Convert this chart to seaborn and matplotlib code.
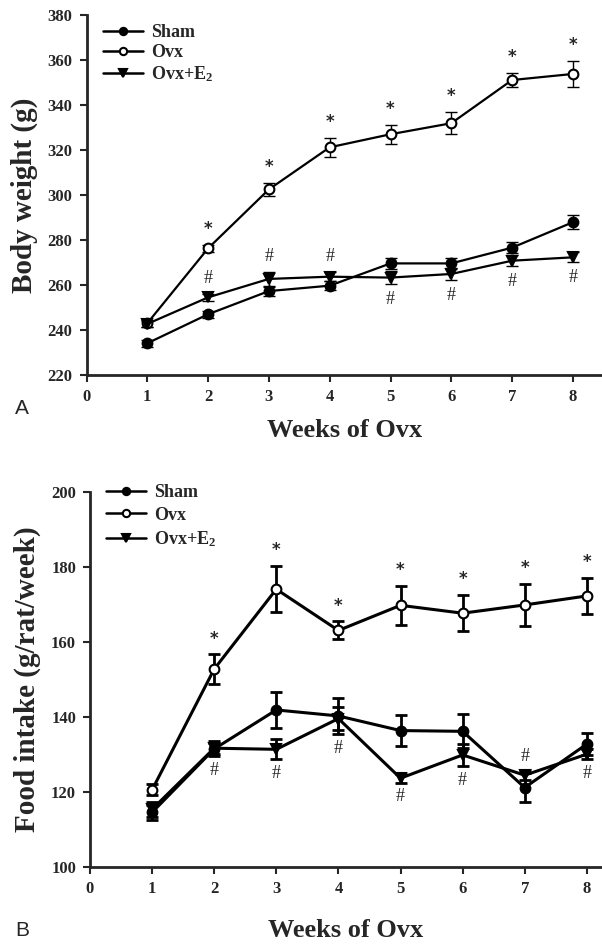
import numpy as np
import pandas as pd
import matplotlib
matplotlib.use("Agg")
import matplotlib.pyplot as plt
import seaborn as sns

sns.set_style("ticks")
plt.rcParams['font.family'] = ['Liberation Serif', 'DejaVu Serif']
plt.rcParams['font.weight'] = 'bold'
plt.rcParams['mathtext.fontset'] = 'custom'
plt.rcParams['mathtext.rm'] = 'Liberation Serif:bold'
plt.rcParams['mathtext.bf'] = 'Liberation Serif:bold'
plt.rcParams['mathtext.it'] = 'Liberation Serif:bold'

weeks = [1, 2, 3, 4, 5, 6, 7, 8]
groups = ["Sham", "Ovx", "Ovx+E$_2$"]

# Panel A: body weight (g)
bw_sham = [234.1, 247.0, 257.3, 259.7, 269.6, 269.6, 276.6, 287.9]
bw_sham_se = [1.5, 1.5, 2.0, 2.0, 2.5, 2.5, 2.4, 3.1]
bw_ovx = [243.0, 276.3, 302.5, 321.2, 327.0, 331.9, 351.1, 353.8]
bw_ovx_se = [1.5, 1.5, 3.0, 4.1, 4.2, 5.0, 3.3, 5.7]
bw_e2 = [242.7, 254.5, 262.7, 263.7, 263.3, 264.9, 270.8, 272.3]
bw_e2_se = [1.5, 1.5, 3.0, 2.0, 3.0, 2.5, 2.5, 2.2]
bw_star_weeks = [2, 3, 4, 5, 6, 7, 8]
bw_hash_weeks = [2, 3, 4, 5, 6, 7, 8]
bw_hash_side = [1, 1, 1, -1, -1, -1, -1]

# Panel B: food intake (g/rat/week)
fi_sham = [114.5, 131.4, 141.8, 140.2, 136.3, 136.1, 121.1, 132.7]
fi_sham_se = [2.0, 2.0, 4.7, 4.8, 4.2, 4.5, 3.9, 3.0]
fi_ovx = [120.5, 152.7, 174.0, 163.0, 169.7, 167.6, 169.8, 172.2]
fi_ovx_se = [1.5, 3.9, 6.1, 2.4, 5.2, 4.8, 5.5, 4.8]
fi_e2 = [115.3, 131.6, 131.3, 139.5, 123.6, 129.8, 124.4, 130.0]
fi_e2_se = [2.0, 1.5, 2.7, 3.0, 1.2, 3.0, 1.3, 1.3]
fi_star_weeks = [2, 3, 4, 5, 6, 7, 8]
fi_hash_weeks = [2, 3, 4, 5, 6, 7, 8]
fi_hash_side = [-1, -1, -1, -1, -1, 1, -1]

xticks = [0, 1, 2, 3, 4, 5, 6, 7, 8]

fig = plt.figure(figsize=(6.02, 9.48), dpi=100)
axA = fig.add_axes([86.5 / 602, 1 - 375 / 948, 1 - 86.5 / 602, 360 / 948])
axB = fig.add_axes([90 / 602, 1 - 866.7 / 948, 1 - 90 / 602, 375 / 948])

styles = {
    "Sham": dict(marker="o", mfc="black", ms=7),
    "Ovx": dict(marker="o", mfc="white", ms=7),
    "Ovx+E$_2$": dict(marker="v", mfc="black", ms=7),
}


def panel(ax, sham, sham_se, ovx, ovx_se, e2, e2_se, lw, elw, ylim, yticks,
          ylabel, star_weeks, hash_weeks, hash_side, star_pad, hash_pad,
          leg_anchor, leg_spacing, ylab_size, xlab_pad):
    data = {"Sham": (sham, sham_se), "Ovx": (ovx, ovx_se), "Ovx+E$_2$": (e2, e2_se)}
    order = ["Ovx", "Ovx+E$_2$", "Sham"]
    for z, g in enumerate(order):
        vals, se = data[g]
        df = pd.DataFrame({"week": weeks, "value": vals})
        ax.errorbar(weeks, vals, yerr=se, fmt="none", ecolor="black",
                    elinewidth=elw, capsize=4, capthick=elw, zorder=2 + z)
        sns.lineplot(data=df, x="week", y="value", ax=ax, color="black",
                     lw=lw, marker=styles[g]["marker"], ms=styles[g]["ms"],
                     mfc=styles[g]["mfc"], mec="black", mew=1.5,
                     zorder=3 + z, label=g)
    h, l = ax.get_legend_handles_labels()
    hd = dict(zip(l, h))
    leg = ax.legend([hd[g] for g in groups], groups, loc="upper left",
                    bbox_to_anchor=leg_anchor, frameon=False,
                    handlelength=2.2, handletextpad=0.45,
                    labelspacing=leg_spacing, borderaxespad=0, borderpad=0,
                    markerscale=0.75,
                    prop={"family": "Liberation Serif", "weight": "bold",
                          "size": 13})
    for line in leg.get_lines():
        line.set_linewidth(1.8)
    # significance marks
    for w in star_weeks:
        i = weeks.index(w)
        ax.annotate("*", (w, ovx[i] + ovx_se[i]), xytext=(0, star_pad),
                    textcoords="offset points", ha="center", va="bottom",
                    fontsize=12, fontfamily="DejaVu Sans")
    for w, s in zip(hash_weeks, hash_side):
        i = weeks.index(w)
        if s > 0:
            base = e2[i] + e2_se[i]
            ax.annotate("#", (w, base), xytext=(0, hash_pad),
                        textcoords="offset points", ha="center", va="bottom",
                        fontsize=13, fontweight="normal",
                        fontfamily="Liberation Serif")
        else:
            base = min(e2[i] - e2_se[i], sham[i] - sham_se[i])
            ax.annotate("#", (w, base), xytext=(0, -hash_pad),
                        textcoords="offset points", ha="center", va="top",
                        fontsize=13, fontweight="normal",
                        fontfamily="Liberation Serif")
    ax.set_ylim(*ylim)
    ax.set_yticks(yticks)
    ax.set_xticks(xticks)
    ax.set_ylabel(ylabel, fontsize=ylab_size, fontweight="bold", labelpad=7)
    ax.set_xlabel("Weeks of Ovx", fontsize=19, fontweight="bold",
                  labelpad=xlab_pad)
    for lab in ax.get_xticklabels() + ax.get_yticklabels():
        lab.set_fontweight("bold")
        lab.set_fontsize(12)
    ax.tick_params(direction="out", length=5, width=1.5, pad=5)
    sns.despine(ax=ax)
    for sp in ("left", "bottom"):
        ax.spines[sp].set_linewidth(2)


panel(axA, bw_sham, bw_sham_se, bw_ovx, bw_ovx_se, bw_e2, bw_e2_se, 1.6, 1.0,
      (220, 380), np.arange(220, 381, 20), "Body weight (g)",
      bw_star_weeks, bw_hash_weeks, bw_hash_side, 5, 5,
      (0.032, 0.975), 0.18, 21, 10)
axA.set_xlim(0, (602 - 86.5) / 60.8)

panel(axB, fi_sham, fi_sham_se, fi_ovx, fi_ovx_se, fi_e2, fi_e2_se, 2.2, 2.0,
      (100, 200), np.arange(100, 201, 20), "Food intake (g/rat/week)",
      fi_star_weeks, fi_hash_weeks, fi_hash_side, 5, 4,
      (0.031, 1.02), 0.3, 21, 16)
axB.set_xlim(0, (602 - 90) / 62.1)

fig.text(15 / 602, 1 - 408 / 948, "A", fontsize=15, fontweight="normal",
         family="Liberation Sans", va="center")
fig.text(15 / 602, 1 - 930 / 948, "B", fontsize=15, fontweight="normal",
         family="Liberation Sans", va="center")

fig.savefig("out.png", dpi=100)
